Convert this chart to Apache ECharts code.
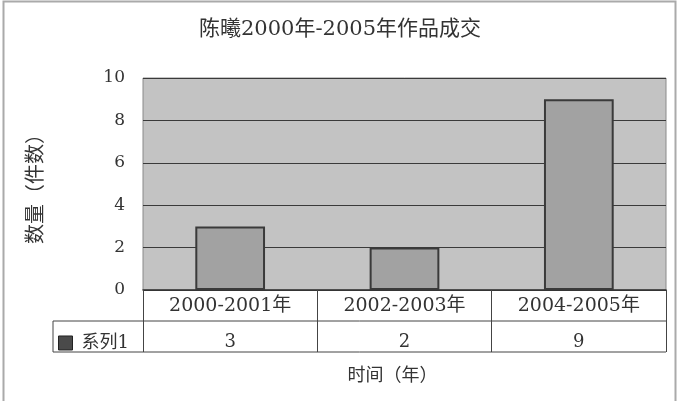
<!DOCTYPE html>
<html><head><meta charset="utf-8">
<script src="https://cdn.jsdelivr.net/npm/echarts@6/dist/echarts.min.js"></script>
<style>html,body{margin:0;padding:0;background:#fff}#c{width:680px;height:401px}</style>
</head><body><div id="c"></div>
<script>
var categories = ['2000-2001年', '2002-2003年', '2004-2005年'];
var seriesName = '系列1';
var values = [3, 2, 9];
var yTicks = [0, 2, 4, 6, 8, 10];
var titleText = '陈曦2000年-2005年作品成交';
var yName = '数量（件数）';
var xName = '时间（年）';

var FONT = '"DejaVu Serif", "Noto Sans CJK SC", serif';
var chart = echarts.init(document.getElementById('c'), null, {renderer: 'canvas'});
var gl = 143, gr = 666, gb = 290;
chart.setOption({
  backgroundColor: '#fff',
  animation: false,
  title: {text: titleText, left: 'center', top: 14,
    textStyle: {fontFamily: FONT, fontSize: 21, fontWeight: 'normal', color: '#333'}},
  legend: {left: 58, top: 334, padding: 0, itemWidth: 14, itemHeight: 14, itemGap: 4,
    icon: 'rect', data: [seriesName],
    itemStyle: {color: '#4a4a4a', borderColor: '#222', borderWidth: 1},
    textStyle: {fontFamily: FONT, fontSize: 18, color: '#333', padding: [0, 0, 0, 4]}},
  grid: {left: gl, right: 680 - gr, top: 78, bottom: 401 - gb, show: true,
    backgroundColor: '#c3c3c3', borderColor: '#8a8a8a', borderWidth: 1},
  xAxis: {type: 'category', data: categories,
    axisLine: {lineStyle: {color: '#333', width: 1.5}},
    axisTick: {show: true, interval: 0, length: 62, lineStyle: {color: '#444'}},
    axisLabel: {interval: 0, fontFamily: FONT, fontSize: 19, color: '#333', margin: 0,
      formatter: function (v, i) { return '{a|' + v + '}\n{b|' + values[i] + '}'; },
      rich: {a: {fontFamily: FONT, fontSize: 19, color: '#333', lineHeight: 32},
             b: {fontFamily: FONT, fontSize: 18, color: '#333', lineHeight: 40}}},
    name: xName, nameLocation: 'middle', nameGap: 77,
    nameTextStyle: {fontFamily: FONT, fontSize: 18, color: '#333', padding: [0, 24, 0, 0]}},
  yAxis: {type: 'value', min: 0, max: 10, interval: 2,
    axisLine: {show: false}, axisTick: {show: false},
    splitLine: {lineStyle: {color: '#3a3a3a', width: 1.2}},
    axisLabel: {fontFamily: FONT, fontSize: 17, color: '#333', margin: 18,
      formatter: function (v) { return yTicks.indexOf(v) >= 0 ? String(v) : ''; }},
    name: yName, nameLocation: 'middle', nameGap: 96, nameRotate: 90,
    nameTextStyle: {fontFamily: FONT, fontSize: 20, color: '#333'}},
  series: [{type: 'bar', name: seriesName, data: values, barWidth: '40%',
    itemStyle: {color: '#a2a2a2', borderColor: '#3a3a3a', borderWidth: 2}}],
  graphic: [
    {type: 'line', shape: {x1: 53, y1: 321, x2: gr, y2: 321}, style: {stroke: '#444', lineWidth: 1}},
    {type: 'line', shape: {x1: 53, y1: 352, x2: gr, y2: 352}, style: {stroke: '#444', lineWidth: 1}},
    {type: 'line', shape: {x1: 53, y1: 321, x2: 53, y2: 352}, style: {stroke: '#444', lineWidth: 1}},
    {type: 'rect', shape: {x: 3.5, y: 1.5, width: 672, height: 405}, style: {fill: null, stroke: '#aaa', lineWidth: 2}}
  ]
});
</script></body></html>
